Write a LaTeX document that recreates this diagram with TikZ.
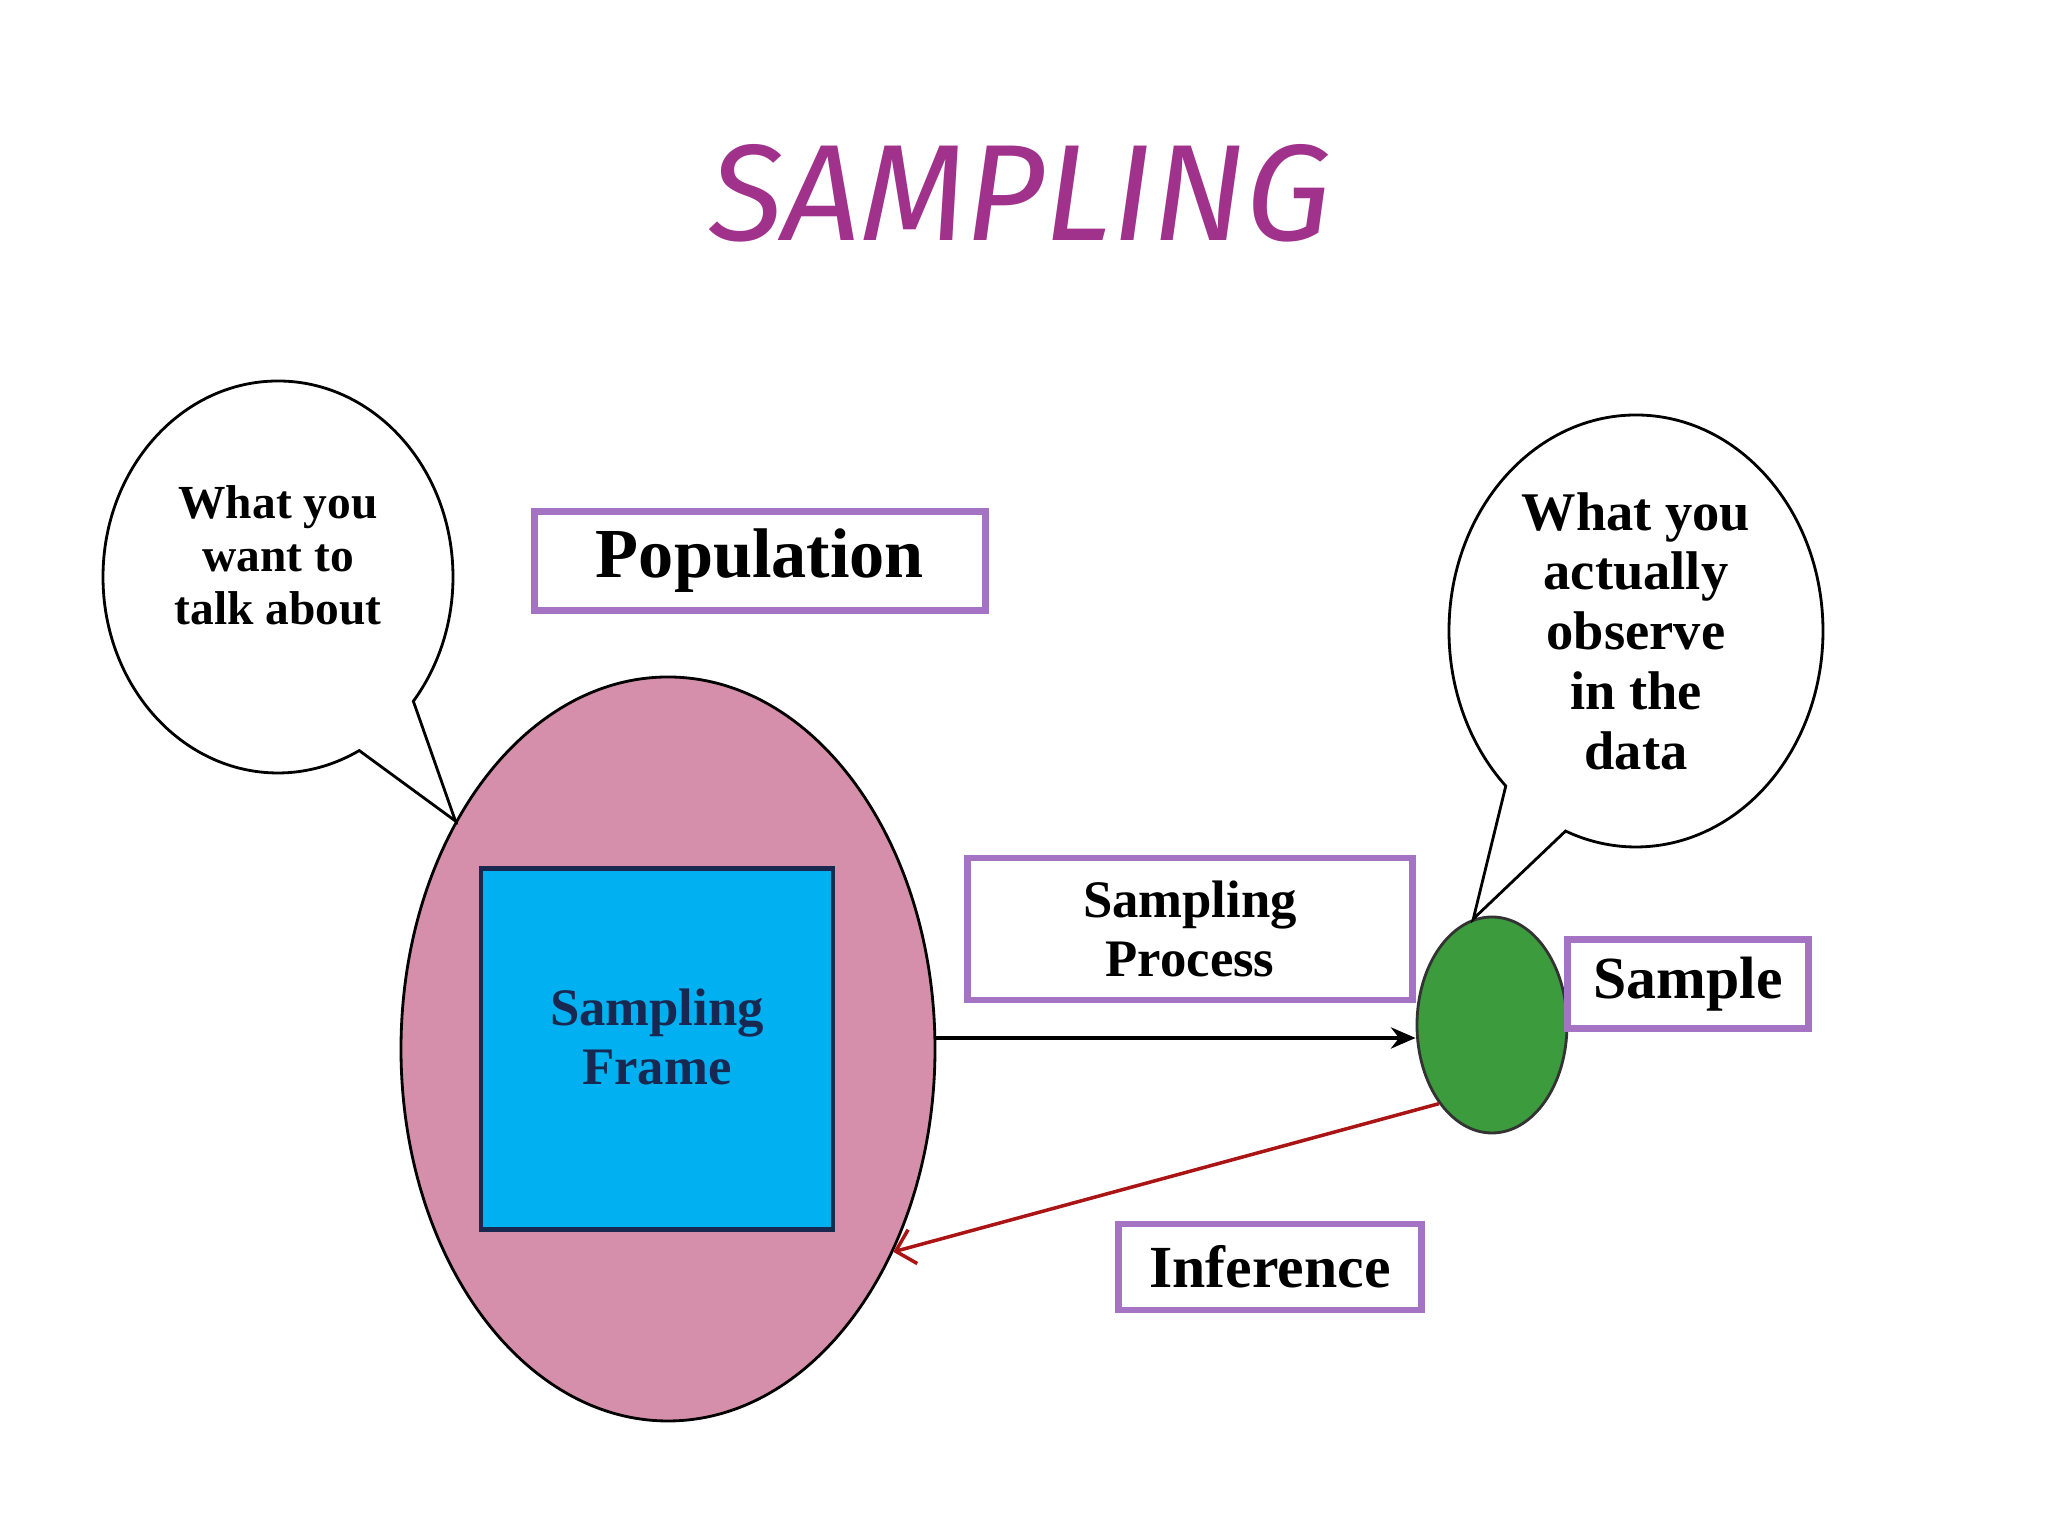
\documentclass[tikz,border=0pt]{standalone}
\usepackage{fontspec}
\setmainfont{Liberation Serif}
\newfontfamily\titlefont{Fira Sans}
\usepackage{tikz}
\usetikzlibrary{positioning, arrows.meta, shapes.geometric, shapes.callouts}
\definecolor{pop_pink}{RGB}{214,143,171}
\definecolor{frame_blue}{RGB}{0,176,240}
\definecolor{frame_navy}{RGB}{25,40,80}
\definecolor{samp_green}{RGB}{60,155,60}
\definecolor{tag_purple}{RGB}{165,115,195}
\definecolor{title_purple}{RGB}{160,50,140}
\definecolor{inf_red}{RGB}{170,20,20}

\begin{document}
\begin{tikzpicture}[>=Stealth, font=\bfseries,
      tag/.style={draw=tag_purple, line width=1.8pt, fill=white, align=center, inner sep=0pt},
      bubble/.style={ellipse callout, draw, thick, fill=white, align=center, inner sep=0pt},
      blob/.style={ellipse, draw, thick, inner sep=0pt}]
    \useasboundingbox (0,0) rectangle (20.48,15.36);
    \node[font=\titlefont\itshape\fontsize{39}{44}\selectfont, text=title_purple] (title) at (10.2,13.43) {SAMPLING};
    % population and its frame
    \node[blob, fill=pop_pink, minimum width=5.34cm, minimum height=7.44cm] (pframe) at (6.68,4.87) {};
    \node[draw=frame_navy, line width=1.2pt, fill=frame_blue, text=frame_navy, align=center,
      minimum width=3.52cm, minimum height=3.61cm, font=\bfseries\fontsize{15}{17}\selectfont] (sframe) at (6.57,4.87) {Sampling\\ Frame\\[-10pt]\mbox{}};
    \node[tag, minimum width=4.51cm, minimum height=0.99cm, font=\bfseries\fontsize{20}{24}\selectfont] (poplbl) at (7.6,9.75) {Population};
    % sample
    \node[blob, fill=samp_green, draw=black!80, minimum width=1.5cm, minimum height=2.16cm] (samp) at (14.92,5.11) {};
    \node[tag, minimum width=2.41cm, minimum height=0.89cm, font=\bfseries\fontsize{17}{20}\selectfont] (samplbl) at (16.88,5.52) {Sample};
    \node[tag, minimum width=4.45cm, minimum height=1.42cm, font=\bfseries\fontsize{15}{17}\selectfont] (proclbl) at (11.9,6.07) {Sampling\\ Process};
    \node[tag, minimum width=3.03cm, minimum height=0.86cm, font=\bfseries\fontsize{17}{20}\selectfont] (inflbl) at (12.7,2.69) {Inference};
    % speech bubbles
    \node[bubble, minimum width=3.5cm, minimum height=3.92cm, callout pointer arc=23,
      callout absolute pointer={(pframe.133)}, font=\bfseries\fontsize{13.5}{15}\selectfont] (want) at (2.78,9.59) {What you\\ want to\\ talk about\\[-2.5pt]\mbox{}};
    \node[bubble, minimum width=3.74cm, minimum height=4.32cm, callout pointer arc=22,
      callout absolute pointer={(samp.100)}, font=\bfseries\fontsize{15.5}{17}\selectfont] (observe) at (16.36,9.05) {What you\\ actually\\ observe\\ in the\\ data};
    % arrows
    \coordinate (ay) at (0,4.98);
    \draw[-{Stealth[length=7pt,width=6pt]}, line width=1.2pt] (pframe.east |- ay) -- (samp.west |- ay);
    \draw[-{Straight Barb[length=5pt,width=10pt]}, line width=1pt, inf_red] (samp.236) -- (pframe.-42);
  \end{tikzpicture}
\end{document}
